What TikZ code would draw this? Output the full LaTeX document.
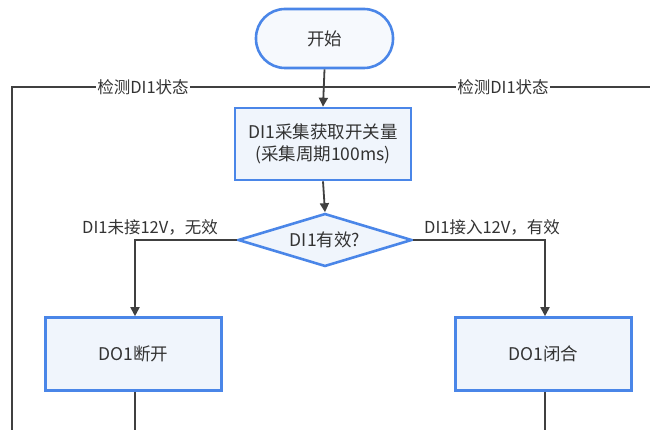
\documentclass[tikz,border=0pt]{standalone}
\usepackage{fontspec}
\setmainfont{Noto Sans CJK SC}
\usetikzlibrary{arrows.meta,shapes.geometric}
\definecolor{bblue}{HTML}{4A86E8}
\definecolor{bfill}{HTML}{F0F5FC}
\definecolor{lgray}{HTML}{404040}
\definecolor{tgray}{HTML}{333333}
\tikzset{
  procbox/.style={draw=bblue,line width=2.6pt,fill=bfill,text=tgray,font=\fontsize{17.5}{22}\selectfont,align=center,inner sep=0pt},
  startbox/.style={draw=bblue,line width=2.6pt,fill=bfill!60!white,rounded corners=29pt,text=tgray,font=\fontsize{17.5}{22}\selectfont,inner sep=0pt},
  decbox/.style={diamond,draw=bblue,line width=2.6pt,fill=bfill,text=tgray,font=\fontsize{17.5}{22}\selectfont,inner sep=0pt,aspect=3.3},
  conn/.style={draw=lgray,line width=1.8pt},
  arr/.style={conn,-{Triangle[length=9pt,width=9pt]}},
  lbl/.style={text=tgray,font=\fontsize{16.5}{20}\selectfont,inner sep=1pt},
}
\begin{document}
\begin{tikzpicture}[x=1pt,y=-1pt]
\clip (0,0) rectangle (650,430);
\fill[white] (0,0) rectangle (650,430);
% nodes
\node[startbox,minimum width=137pt,minimum height=59pt] (start) at (324.5,38.5) {开始};
\node[procbox,minimum width=176pt,minimum height=72pt] (acq) at (323,144) {DI1采集获取开关量\\(采集周期100ms)};
\node[decbox,minimum width=174pt,minimum height=53pt] (dec) at (325,240) {DI1有效?};
\node[procbox,minimum width=176pt,minimum height=73pt] (off) at (133.5,354) {DO1断开};
\node[procbox,minimum width=176pt,minimum height=73pt] (on) at (543.5,354) {DO1闭合};
% loop coordinates
\coordinate (join) at (325,87);
\coordinate (lt) at (12,87);
\coordinate (lb) at (12,440);
\coordinate (rt) at (660,87);
\coordinate (offb) at (135,440);
\coordinate (onb) at (545,440);
\coordinate (lturn) at (135,240);
\coordinate (rturn) at (545,240);
% connectors
\draw[arr] (start.south) -- (acq.north);
\draw[conn] (lb) -- (lt) -- (join);
\draw[conn] (rt) -- (join);
\node[lbl,fill=white] (lab1) at (143,87) {检测DI1状态};
\node[lbl,fill=white] (lab2) at (503,87) {检测DI1状态};
\draw[arr] (acq.south) -- (dec.north);
\draw[arr] (dec.west) -- (lturn) -- (lturn |- off.north);
\draw[arr] (dec.east) -- (rturn) -- (rturn |- on.north);
\node[lbl,anchor=base] (ll) at (150,234) {DI1未接12V，无效};
\node[lbl,anchor=base] (rl) at (492,234) {DI1接入12V，有效};
\draw[conn] (off.south -| lturn) -- (offb);
\draw[conn] (on.south -| onb) -- (onb);
\end{tikzpicture}
\end{document}
